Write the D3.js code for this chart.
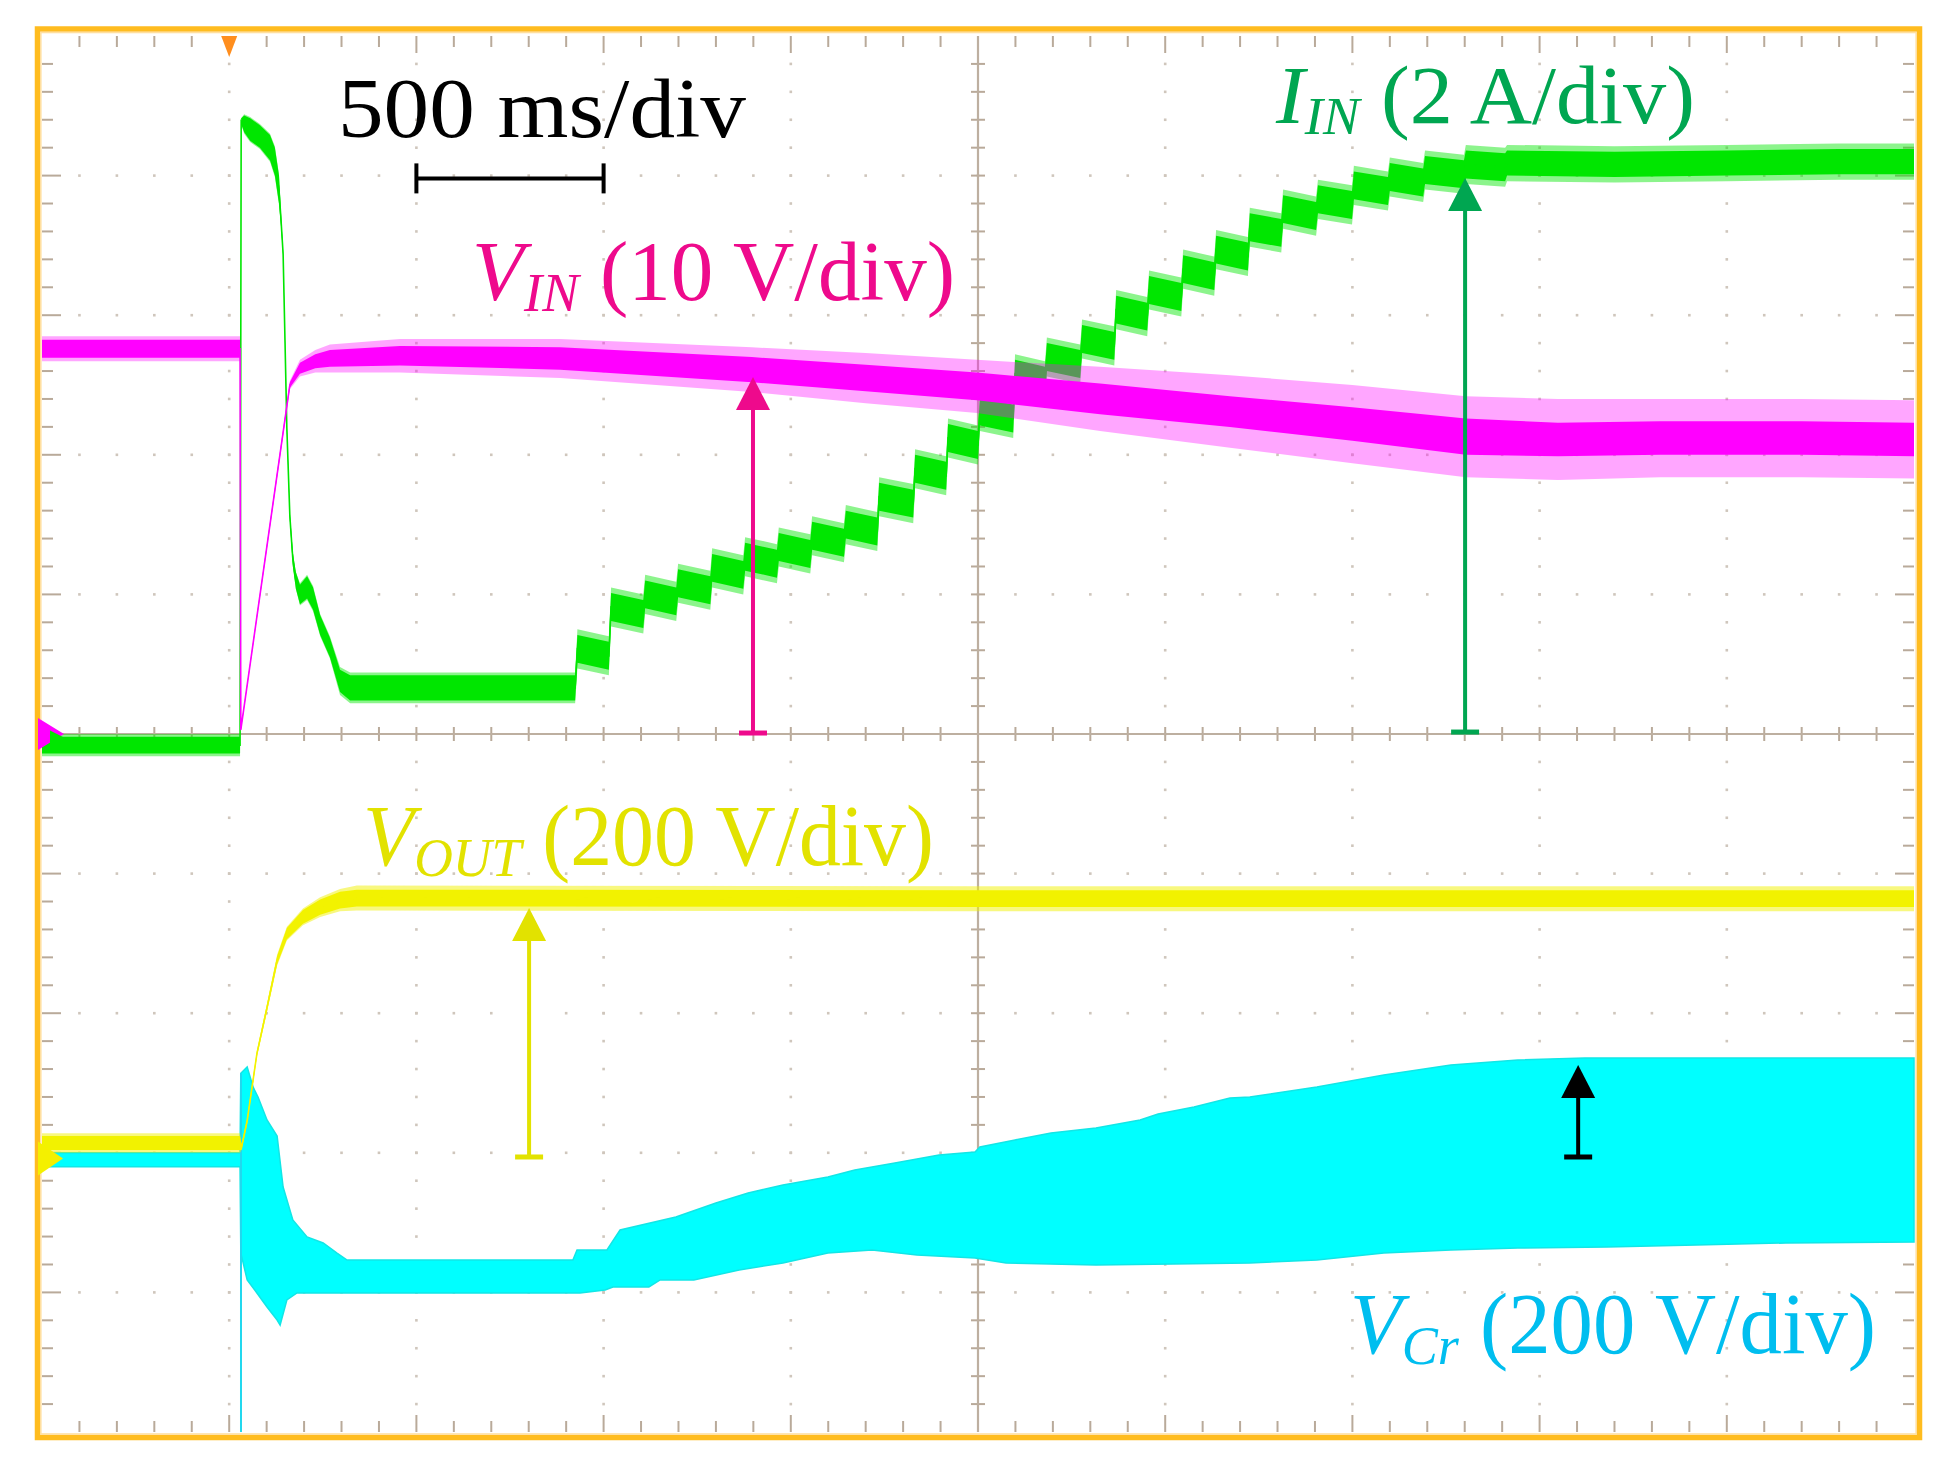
<!DOCTYPE html>
<html><head><meta charset="utf-8">
<script src="https://cdn.jsdelivr.net/npm/d3@7"></script>
<style>html,body{margin:0;padding:0;background:#fff;} svg{display:block;}</style>
</head><body>
<svg id="chart" width="1956" height="1469"></svg>
<script>
// ================= DATA (time in ms from left edge, level in screen divisions) =================
const timeDomainMs = [0, 5000];          // 10 div x 500 ms/div
const divDomain = [-5, 5];               // 10 vertical divisions
const minorTimeTicks = d3.range(0, 51).map(i => i * 100);
const majorTimeTicks = d3.range(0, 11).map(i => i * 500);
const minorDivTicks = d3.range(-25, 26).map(i => i / 5);
const majorDivTicks = d3.range(-5, 6);

// V_IN (magenta): [t, level, coreHalfWidth, fuzzHalfWidth]
const vinTrace = [
  [0, 2.76, 0.065, 0.09], [529, 2.76, 0.065, 0.09], [531, 0.03, 0.01, 0.01],
  [662, 2.50, 0.02, 0.03], [689, 2.62, 0.04, 0.06], [730, 2.67, 0.05, 0.08],
  [769, 2.69, 0.06, 0.10], [956, 2.71, 0.07, 0.12], [1384, 2.69, 0.08, 0.14],
  [1896, 2.61, 0.09, 0.16], [2200, 2.55, 0.095, 0.18], [2497, 2.49, 0.10, 0.19],
  [2826, 2.40, 0.11, 0.23], [3173, 2.31, 0.11, 0.26], [3500, 2.22, 0.12, 0.28],
  [3803, 2.13, 0.13, 0.29], [4049, 2.11, 0.12, 0.29], [4322, 2.12, 0.12, 0.28],
  [4700, 2.12, 0.12, 0.28], [5000, 2.11, 0.12, 0.28]
];

// I_IN (green) start-up transient: [t, level, core, fuzz]
const iinTransient = [
  [0, -0.08, 0.06, 0.08], [529, -0.08, 0.06, 0.08], [532, 4.39, 0.02, 0.02],
  [540, 4.37, 0.06, 0.07], [556, 4.33, 0.08, 0.09], [582, 4.28, 0.08, 0.09],
  [609, 4.20, 0.09, 0.10], [622, 4.10, 0.10, 0.11], [633, 3.90, 0.10, 0.11],
  [638, 3.70, 0.05, 0.05], [644, 3.44, 0.02, 0.02], [649, 2.82, 0.02, 0.02],
  [654, 2.19, 0.02, 0.02], [662, 1.56, 0.03, 0.03], [670, 1.25, 0.05, 0.05],
  [678, 1.10, 0.06, 0.06], [689, 1.00, 0.07, 0.08], [708, 1.05, 0.08, 0.09],
  [724, 0.97, 0.08, 0.09], [743, 0.78, 0.07, 0.08], [769, 0.62, 0.07, 0.08],
  [796, 0.38, 0.08, 0.10], [823, 0.33, 0.09, 0.11], [1424, 0.33, 0.09, 0.11]
];
// I_IN staircase: [tStart, tEnd, levelStart, levelEnd]
const iinSteps = [
  [1430, 1514, 0.61, 0.56], [1520, 1606, 0.91, 0.86], [1611, 1694, 1.00, 0.95],
  [1699, 1785, 1.08, 1.03], [1790, 1873, 1.19, 1.14], [1878, 1963, 1.27, 1.22],
  [1968, 2052, 1.34, 1.29], [2057, 2142, 1.42, 1.37], [2147, 2231, 1.50, 1.45],
  [2236, 2327, 1.70, 1.65], [2332, 2415, 1.90, 1.85], [2420, 2500, 2.12, 2.07],
  [2505, 2594, 2.31, 2.26], [2599, 2679, 2.58, 2.53], [2684, 2773, 2.70, 2.65],
  [2778, 2864, 2.83, 2.78], [2869, 2952, 3.04, 2.99], [2957, 3043, 3.18, 3.13],
  [3048, 3131, 3.33, 3.28], [3136, 3221, 3.47, 3.42], [3226, 3310, 3.63, 3.59],
  [3315, 3403, 3.76, 3.71], [3408, 3499, 3.83, 3.79], [3504, 3595, 3.93, 3.89],
  [3600, 3689, 3.99, 3.95], [3694, 3798, 4.04, 4.01], [3803, 3908, 4.08, 4.06]
];
const iinStepSpread = [0.10, 0.14];
// I_IN settled
const iinSettled = [
  [3913, 4.09, 0.09, 0.13], [4200, 4.08, 0.09, 0.13], [4500, 4.09, 0.09, 0.13],
  [4800, 4.10, 0.09, 0.13], [5000, 4.10, 0.09, 0.13]
];

// V_OUT (yellow): [t, level, core, fuzz]
const voutTrace = [
  [0, -2.93, 0.05, 0.07], [529, -2.93, 0.05, 0.07], [533, -2.96, 0.02, 0.02],
  [548, -2.77, 0.02, 0.02], [574, -2.29, 0.02, 0.02], [601, -1.96, 0.025, 0.03],
  [628, -1.62, 0.03, 0.04], [654, -1.43, 0.04, 0.05], [697, -1.31, 0.05, 0.06],
  [743, -1.24, 0.055, 0.07], [796, -1.19, 0.06, 0.08], [841, -1.175, 0.06, 0.09],
  [2500, -1.18, 0.06, 0.09], [5000, -1.18, 0.06, 0.09]
];

// V_Cr (cyan) envelope: [t, level]
const vcrUpper = [
  [0, -3.00], [529, -3.00], [531, -2.43], [548, -2.385], [564, -2.53], [577, -2.60],
  [601, -2.765], [628, -2.88], [644, -3.245], [670, -3.481], [708, -3.603],
  [751, -3.646], [788, -3.718], [815, -3.768], [1418, -3.768], [1429, -3.696],
  [1509, -3.696], [1544, -3.553], [1693, -3.460], [1800, -3.360], [1886, -3.288],
  [1979, -3.231], [2099, -3.173], [2171, -3.123], [2278, -3.073], [2396, -3.016],
  [2492, -2.994], [2505, -2.958], [2599, -2.908], [2695, -2.858], [2815, -2.822],
  [2933, -2.765], [2981, -2.722], [3077, -2.672], [3173, -2.607], [3226, -2.600],
  [3405, -2.529], [3584, -2.443], [3763, -2.371], [3942, -2.335], [4121, -2.321],
  [5000, -2.321]
];
const vcrLower = [
  [0, -3.10], [529, -3.10], [531, -3.718], [548, -3.911], [574, -4.004], [601, -4.105],
  [628, -4.198], [636, -4.234], [654, -4.054], [681, -4.004], [724, -4.004],
  [815, -4.004], [1437, -4.004], [1504, -3.983], [1525, -3.961], [1621, -3.961],
  [1651, -3.911], [1741, -3.911], [1862, -3.840], [1979, -3.789], [2099, -3.718],
  [2217, -3.696], [2337, -3.732], [2492, -3.754], [2575, -3.789], [2815, -3.804],
  [3226, -3.789], [3405, -3.768], [3584, -3.718], [3763, -3.696], [3942, -3.682],
  [4180, -3.675], [4418, -3.660], [4658, -3.646], [5000, -3.639]
];
const vcrSpike = [[531.5, -2.43], [531.5, -5]];

// Annotation arrows: [t, baseLevel, tipLevel]
const vinArrow = [1899, 0.007, 2.557];
const iinArrow = [3801, 0.014, 3.983];
const voutArrow = [1301, -3.03, -1.246];
const vcrArrow = [4103, -3.03, -2.371];
const scaleBarMs = [1000, 1500];
const scaleBarLevel = 3.98;
const triggerTimeMs = 500;
const channelMarkers = [0.0, -0.04, -3.04]; // magenta, green, yellow ground markers

// Label texts
const timebaseText = "500 ms/div";
const vinLabel = [["V", "IN"], " (10 V/div)"];
const iinLabel = [["I", "IN"], " (2 A/div)"];
const voutLabel = [["V", "OUT"], " (200 V/div)"];
const vcrLabel = [["V", "Cr"], " (200 V/div)"];

// ================= DRAWING =================
const PL = 42, PR = 1914, PT = 36, PB = 1432;
const x = d3.scaleLinear().domain(timeDomainMs).range([PL, PR]);
const y = d3.scaleLinear().domain(divDomain).range([PB, PT]);
const svg = d3.select('#chart');
svg.append('rect').attr('width', 1956).attr('height', 1469).attr('fill', '#fff');

// frame
svg.append('rect').attr('x', 37.5).attr('y', 29).attr('width', 1882).attr('height', 1408.5)
  .attr('fill', 'none').attr('stroke', '#FFBC1F').attr('stroke-width', 5.5);
svg.append('rect').attr('x', 40.8).attr('y', 32.5).attr('width', 1875.4).attr('height', 1401.5)
  .attr('fill', 'none').attr('stroke', '#FFDFA0').attr('stroke-width', 1.6);

// grid dots
const grid = svg.append('g');
const dotColor = '#CFC6BC';
const dots = [];
majorTimeTicks.filter(t => t > 0 && t < 5000 && t !== 2500).forEach(t =>
  minorDivTicks.filter(v => v > -5 && v < 5).forEach(v => dots.push([t, v])));
majorDivTicks.filter(v => v > -5 && v < 5 && v !== 0).forEach(v =>
  minorTimeTicks.filter(t => t > 0 && t < 5000).forEach(t => dots.push([t, v])));
grid.selectAll('rect.dot').data(dots).join('rect').attr('class', 'dot')
  .attr('x', d => x(d[0]) - 1.3).attr('y', d => y(d[1]) - 1.3)
  .attr('width', 2.6).attr('height', 2.6).attr('fill', dotColor);

// edge ticks
const tickColor = '#B9AA9A';
const isMajorT = t => t % 500 === 0;
const isMajorV = v => Math.abs(v - Math.round(v)) < 1e-6;
const edgeTicks = [];
minorTimeTicks.filter(t => t > 0 && t < 5000).forEach(t => {
  const L = isMajorT(t) ? 17 : 11;
  edgeTicks.push([x(t), PT, x(t), PT + L]);
  edgeTicks.push([x(t), PB, x(t), PB - L]);
});
minorDivTicks.filter(v => v > -5 && v < 5).forEach(v => {
  const L = isMajorV(v) ? 19 : 11;
  edgeTicks.push([PL, y(v), PL + L, y(v)]);
  edgeTicks.push([PR, y(v), PR - L, y(v)]);
});
// centre axes
const cx = x(2500), cy = y(0);
minorTimeTicks.filter(t => t > 0 && t < 5000).forEach(t => edgeTicks.push([x(t), cy - 7, x(t), cy + 7]));
minorDivTicks.filter(v => v > -5 && v < 5).forEach(v => edgeTicks.push([cx - 7, y(v), cx + 7, y(v)]));
grid.selectAll('line.tk').data(edgeTicks).join('line').attr('class', 'tk')
  .attr('x1', d => d[0]).attr('y1', d => d[1]).attr('x2', d => d[2]).attr('y2', d => d[3])
  .attr('stroke', tickColor).attr('stroke-width', 2);
grid.append('line').attr('x1', cx).attr('x2', cx).attr('y1', PT).attr('y2', PB)
  .attr('stroke', '#BDAFA0').attr('stroke-width', 2.2);
grid.append('line').attr('x1', PL).attr('x2', PR).attr('y1', cy).attr('y2', cy)
  .attr('stroke', '#BDAFA0').attr('stroke-width', 2.2);

// trigger marker
const tx = x(triggerTimeMs);
svg.append('path').attr('d', `M${tx - 8},${PT} L${tx + 8},${PT} L${tx},${PT + 21} Z`).attr('fill', '#FF8E1E');

// ---- traces ----
function band(points, key) {
  return d3.area().x(d => x(d[0])).y0(d => y(d[1] - d[key])).y1(d => y(d[1] + d[key]))(points);
}
function drawTrace(points, color, fuzzOpacity) {
  const g = svg.append('g');
  g.append('path').attr('d', band(points, 3)).attr('fill', color).attr('opacity', fuzzOpacity);
  g.append('path').attr('d', band(points, 2)).attr('fill', color);
  g.append('path').attr('d', d3.line().x(d => x(d[0])).y(d => y(d[1]))(points))
    .attr('fill', 'none').attr('stroke', color).attr('stroke-width', 1.6);
}

// cyan V_Cr
const cyanPts = vcrUpper.map(d => [x(d[0]), y(d[1])]).concat(vcrLower.slice().reverse().map(d => [x(d[0]), y(d[1])]));
svg.append('path').attr('d', d3.line()(cyanPts) + 'Z').attr('fill', '#00FFFF')
  .attr('stroke', '#12E6E6').attr('stroke-width', 1.5);
svg.append('path').attr('d', d3.line().x(d => x(d[0])).y(d => y(d[1]))(vcrSpike))
  .attr('stroke', '#22D8EE').attr('stroke-width', 2);

// yellow V_OUT
drawTrace(voutTrace, '#F2F200', 0.5);

// green I_IN
const iinTrace = iinTransient
  .concat(iinSteps.flatMap(s => [[s[0], s[2], iinStepSpread[0], iinStepSpread[1]], [s[1], s[3], iinStepSpread[0], iinStepSpread[1]]]))
  .concat(iinSettled);
drawTrace(iinTrace, '#00E600', 0.45);

// magenta V_IN
drawTrace(vinTrace, '#FF00FF', 0.35);

// channel ground markers
const [mM, mG, mY] = channelMarkers;
svg.append('path').attr('d', `M38,${y(mM) - 16} L38,${y(mM) + 16} L64,${y(mM)} Z`).attr('fill', '#FF00FF');
svg.append('path').attr('d', `M50,${y(mG) - 9} L50,${y(mG) + 10} L68,${y(mG)} Z`).attr('fill', '#00E600');
svg.append('path').attr('d', `M38,${y(mY) - 17} L38,${y(mY) + 17} L63,${y(mY)} Z`).attr('fill', '#F4F000');

// ---- annotation arrows ----
function arrow(spec, color) {
  const [t, base, tip] = spec;
  const ax = x(t), yb = y(base), yt = y(tip);
  const headL = 33, headW = 17;
  const g = svg.append('g');
  g.append('line').attr('x1', ax).attr('x2', ax).attr('y1', yb).attr('y2', yt + headL - 2)
    .attr('stroke', color).attr('stroke-width', 4);
  g.append('path').attr('d', `M${ax},${yt} L${ax - headW},${yt + headL} L${ax + headW},${yt + headL} Z`).attr('fill', color);
  g.append('line').attr('x1', ax - 14).attr('x2', ax + 14).attr('y1', yb).attr('y2', yb)
    .attr('stroke', color).attr('stroke-width', 5);
}
arrow(vinArrow, '#EE0A8C');
arrow(iinArrow, '#00A651');
arrow(voutArrow, '#E2E200');
arrow(vcrArrow, '#000000');

// scale bar
const sb = svg.append('g').attr('stroke', '#000').attr('stroke-width', 4);
const sby = y(scaleBarLevel);
sb.append('line').attr('x1', x(scaleBarMs[0])).attr('x2', x(scaleBarMs[1])).attr('y1', sby).attr('y2', sby);
scaleBarMs.forEach(t => sb.append('line').attr('x1', x(t)).attr('x2', x(t)).attr('y1', sby - 15).attr('y2', sby + 15));

// ---- labels ----
const FONT = '"Liberation Serif", "Times New Roman", serif';
function label(parts, px, baseline, targetWidth, color, size) {
  const g = svg.append('g');
  const t = g.append('text').attr('x', 0).attr('y', 0).attr('fill', color)
    .style('font-family', FONT).style('font-size', size + 'px');
  if (typeof parts === 'string') {
    t.append('tspan').text(parts);
  } else {
    const [[main, sub], rest] = parts;
    t.append('tspan').style('font-style', 'italic').text(main);
    t.append('tspan').style('font-style', 'italic').style('font-size', Math.round(size * 0.64) + 'px')
      .attr('dy', size * 0.13).text(sub);
    t.append('tspan').attr('dy', -size * 0.13).text(rest);
  }
  const bb = t.node().getBBox();
  const s = targetWidth / bb.width;
  t.attr('x', -bb.x);
  g.attr('transform', `translate(${px},${baseline}) scale(${s},1)`);
}
label(timebaseText, 338, 137, 408, '#000000', 84);
label(vinLabel, 472, 300, 483, '#EE0A8C', 84);
label(iinLabel, 1275, 123, 420, '#00A651', 82);
label(voutLabel, 363, 865, 571, '#E2E200', 86);
label(vcrLabel, 1350, 1353, 526, '#00BEEF', 86);
</script>
</body></html>
